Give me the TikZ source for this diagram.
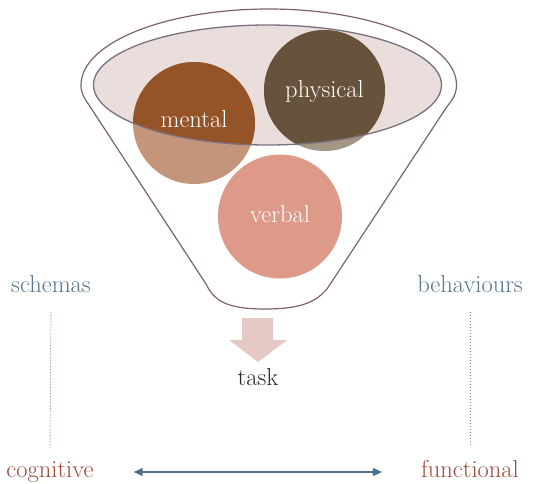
\documentclass[tikz,border=0pt]{standalone}
\usepackage{fontspec}
\usetikzlibrary{arrows.meta}
\definecolor{rimcol}{HTML}{7D6461}
\definecolor{ellfill}{HTML}{E9DEDC}
\definecolor{ellline}{HTML}{7A7080}
\definecolor{mentaldark}{HTML}{955428}
\definecolor{mentallight}{HTML}{C4957A}
\definecolor{physdark}{HTML}{67533C}
\definecolor{physlight}{HTML}{A39684}
\definecolor{verbalcol}{HTML}{DE9A88}
\definecolor{bluelabel}{HTML}{56748D}
\definecolor{redlabel}{HTML}{9C4A38}
\definecolor{taskarrow}{HTML}{E6C8C4}
\definecolor{dotcol}{HTML}{A07878}
\definecolor{axiscol}{HTML}{4F7088}
\begin{document}
\begin{tikzpicture}[x=1pt,y=-1pt,
  lbl/.style={font=\fontsize{24.5}{29}\selectfont, anchor=base, inner sep=0pt},
  circlbl/.style={lbl, text=white},
  bluelbl/.style={lbl, text=bluelabel},
  redlbl/.style={lbl, text=redlabel},
  dotline/.style={draw=dotcol, line width=0.9pt, dash pattern=on 0.9pt off 2.1pt},
  axis/.style={draw=axiscol, line width=1.1pt, {Triangle[length=9pt,width=8pt]}-{Triangle[length=9pt,width=8pt]}}
]
\useasboundingbox (0,0) rectangle (543,483);
% funnel outline
\draw[rimcol, line width=1.2pt]
  (81,85) .. controls (81,93) and (84,98) .. (89,105)
  -- (206,284) .. controls (214,300) and (225,309) .. (265,309)
  .. controls (305,309) and (317,300) .. (327,289)
  -- (446,108) .. controls (452,100) and (456.5,95) .. (456.5,85)
  arc[start angle=0, end angle=-180, x radius=187.75, y radius=76];
% ellipse fill
\fill[ellfill] (267.5,85) ellipse[x radius=174, y radius=60];
% circles light parts
\fill[mentallight] (194,123) circle[radius=61];
\fill[physlight] (324.5,90.5) circle[radius=60.5];
\fill[verbalcol] (280,216.5) circle[radius=62];
% dark parts inside ellipse
\begin{scope}
  \clip (267.5,85) ellipse[x radius=174, y radius=60];
  \fill[mentaldark] (194,123) circle[radius=61];
  \fill[physdark] (324.5,90.5) circle[radius=60.5];
\end{scope}
\draw[ellline, line width=1.3pt] (267.5,85) ellipse[x radius=174, y radius=60];
% circle labels
\node[circlbl] (mental) at (194,127) {mental};
\node[circlbl] (physical) at (324.5,97) {physical};
\node[circlbl] (verbal) at (280,222) {verbal};
% task arrow
\fill[taskarrow] (242,318) -- (273,318) -- (273,340) -- (287,340) -- (258,362) -- (229,340) -- (242,340) -- cycle;
\node[lbl, text=black!85] (task) at (258,385) {task};
% side labels
\node[bluelbl] (schemas) at (51,292) {schemas};
\node[bluelbl] (behaviours) at (470,292) {behaviours};
\node[redlbl] (cognitive) at (50,477) {cognitive};
\node[redlbl] (functional) at (470,477) {functional};
% dotted verticals
\draw[dotline, shorten <=20pt, shorten >=13pt] (schemas.south) -- (cognitive.north);
\draw[dotline, shorten <=20pt, shorten >=13pt] (behaviours.south) -- (functional.north);
% axis
\draw[axis, shorten <=40pt, shorten >=39pt] ([yshift=5pt]cognitive.base east) -- ([yshift=5pt]functional.base west);
\end{tikzpicture}
\end{document}
